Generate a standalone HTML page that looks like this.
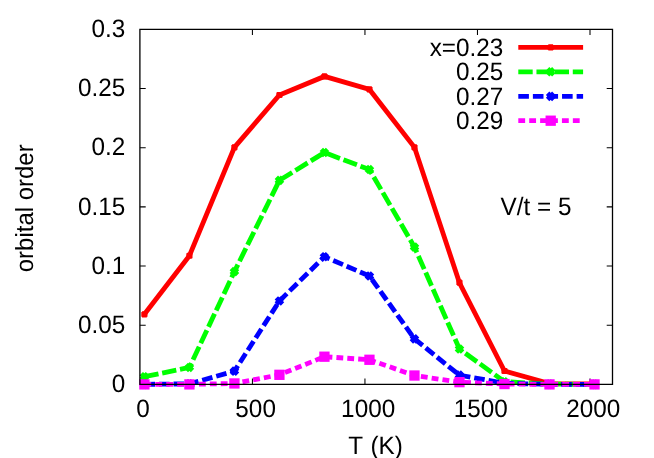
<!DOCTYPE html>
<html><head><meta charset="utf-8"><title>orbital order</title>
<style>html,body{margin:0;padding:0;background:#fff}svg{display:block;will-change:transform}text{font-family:"Liberation Sans",sans-serif;font-size:24.3px;fill:#000;text-rendering:geometricPrecision}</style></head><body>
<svg width="654" height="458" viewBox="0 0 654 458">
<rect width="654" height="458" fill="#fff"/>
<path d="M252.42 384.40v-5.80M252.42 29.30v5.80M364.95 384.40v-5.80M364.95 29.30v5.80M477.47 384.40v-5.80M477.47 29.30v5.80M590.00 384.40v-5.80M590.00 29.30v5.80M139.90 325.22h5.80M612.50 325.22h-5.80M139.90 266.03h5.80M612.50 266.03h-5.80M139.90 206.85h5.80M612.50 206.85h-5.80M139.90 147.67h5.80M612.50 147.67h-5.80M139.90 88.48h5.80M612.50 88.48h-5.80" stroke="#000" stroke-width="1.05" fill="none"/>
<path d="M518.30 47.30H583.10" stroke="#ff0000" stroke-width="4.8" fill="none"/>
<path d="M547.60 47.30H553.80M550.70 44.20V50.40" stroke="#ff0000" stroke-width="4.8" fill="none"/>
<polyline points="144.40,314.33 189.41,255.74 234.42,147.31 279.43,94.99 324.44,76.41 369.45,89.43 414.46,147.31 459.47,282.72 504.48,371.02 549.49,383.57 594.50,383.81" stroke="#ff0000" stroke-width="4.8" fill="none" stroke-linejoin="miter"/>
<path d="M141.30 314.33H147.50M144.40 311.23V317.43" stroke="#ff0000" stroke-width="4.8" fill="none"/>
<path d="M186.31 255.74H192.51M189.41 252.64V258.84" stroke="#ff0000" stroke-width="4.8" fill="none"/>
<path d="M231.32 147.31H237.52M234.42 144.21V150.41" stroke="#ff0000" stroke-width="4.8" fill="none"/>
<path d="M276.33 94.99H282.53M279.43 91.89V98.09" stroke="#ff0000" stroke-width="4.8" fill="none"/>
<path d="M321.34 76.41H327.54M324.44 73.31V79.51" stroke="#ff0000" stroke-width="4.8" fill="none"/>
<path d="M366.35 89.43H372.55M369.45 86.33V92.53" stroke="#ff0000" stroke-width="4.8" fill="none"/>
<path d="M411.36 147.31H417.56M414.46 144.21V150.41" stroke="#ff0000" stroke-width="4.8" fill="none"/>
<path d="M456.37 282.72H462.57M459.47 279.62V285.82" stroke="#ff0000" stroke-width="4.8" fill="none"/>
<path d="M501.38 371.02H507.58M504.48 367.92V374.12" stroke="#ff0000" stroke-width="4.8" fill="none"/>
<path d="M546.39 383.57H552.59M549.49 380.47V386.67" stroke="#ff0000" stroke-width="4.8" fill="none"/>
<path d="M591.40 383.81H597.60M594.50 380.71V386.91" stroke="#ff0000" stroke-width="4.8" fill="none"/>
<path d="M518.30 71.80H583.10" stroke="#00ff00" stroke-width="4.8" fill="none" stroke-dasharray="14.39 3.77"/>
<path d="M547.60 68.70L553.80 74.90M547.60 74.90L553.80 68.70" stroke="#00ff00" stroke-width="4.8" fill="none"/>
<polyline points="144.40,376.71 189.41,367.47 234.42,271.60 279.43,180.34 324.44,152.52 369.45,169.56 414.46,247.09 459.47,349.01 504.48,381.68 549.49,384.16 594.50,384.40" stroke="#00ff00" stroke-width="4.8" fill="none" stroke-linejoin="miter" stroke-dasharray="14.39 3.77"/>
<path d="M141.30 373.61L147.50 379.81M141.30 379.81L147.50 373.61" stroke="#00ff00" stroke-width="4.8" fill="none"/>
<path d="M186.31 364.37L192.51 370.57M186.31 370.57L192.51 364.37" stroke="#00ff00" stroke-width="4.8" fill="none"/>
<path d="M231.32 268.50L237.52 274.70M231.32 274.70L237.52 268.50" stroke="#00ff00" stroke-width="4.8" fill="none"/>
<path d="M276.33 177.24L282.53 183.44M276.33 183.44L282.53 177.24" stroke="#00ff00" stroke-width="4.8" fill="none"/>
<path d="M321.34 149.42L327.54 155.62M321.34 155.62L327.54 149.42" stroke="#00ff00" stroke-width="4.8" fill="none"/>
<path d="M366.35 166.46L372.55 172.66M366.35 172.66L372.55 166.46" stroke="#00ff00" stroke-width="4.8" fill="none"/>
<path d="M411.36 243.99L417.56 250.19M411.36 250.19L417.56 243.99" stroke="#00ff00" stroke-width="4.8" fill="none"/>
<path d="M456.37 345.91L462.57 352.11M456.37 352.11L462.57 345.91" stroke="#00ff00" stroke-width="4.8" fill="none"/>
<path d="M501.38 378.58L507.58 384.78M501.38 384.78L507.58 378.58" stroke="#00ff00" stroke-width="4.8" fill="none"/>
<path d="M546.39 381.06L552.59 387.26M546.39 387.26L552.59 381.06" stroke="#00ff00" stroke-width="4.8" fill="none"/>
<path d="M591.40 381.30L597.60 387.50M591.40 387.50L597.60 381.30" stroke="#00ff00" stroke-width="4.8" fill="none"/>
<path d="M518.30 96.40H583.10" stroke="#0000ff" stroke-width="4.8" fill="none" stroke-dasharray="10.61 3.97"/>
<path d="M547.60 96.40H553.80M550.70 93.30V99.50" stroke="#0000ff" stroke-width="4.8" fill="none"/><path d="M547.60 93.30L553.80 99.50M547.60 99.50L553.80 93.30" stroke="#0000ff" stroke-width="4.8" fill="none"/>
<polyline points="144.40,384.40 189.41,383.81 234.42,371.14 279.43,300.95 324.44,256.68 369.45,275.98 414.46,338.83 459.47,375.17 504.48,383.22 549.49,384.40 594.50,384.40" stroke="#0000ff" stroke-width="4.8" fill="none" stroke-linejoin="miter" stroke-dasharray="10.61 3.97"/>
<path d="M141.30 384.40H147.50M144.40 381.30V387.50" stroke="#0000ff" stroke-width="4.8" fill="none"/><path d="M141.30 381.30L147.50 387.50M141.30 387.50L147.50 381.30" stroke="#0000ff" stroke-width="4.8" fill="none"/>
<path d="M186.31 383.81H192.51M189.41 380.71V386.91" stroke="#0000ff" stroke-width="4.8" fill="none"/><path d="M186.31 380.71L192.51 386.91M186.31 386.91L192.51 380.71" stroke="#0000ff" stroke-width="4.8" fill="none"/>
<path d="M231.32 371.14H237.52M234.42 368.04V374.24" stroke="#0000ff" stroke-width="4.8" fill="none"/><path d="M231.32 368.04L237.52 374.24M231.32 374.24L237.52 368.04" stroke="#0000ff" stroke-width="4.8" fill="none"/>
<path d="M276.33 300.95H282.53M279.43 297.85V304.05" stroke="#0000ff" stroke-width="4.8" fill="none"/><path d="M276.33 297.85L282.53 304.05M276.33 304.05L282.53 297.85" stroke="#0000ff" stroke-width="4.8" fill="none"/>
<path d="M321.34 256.68H327.54M324.44 253.58V259.78" stroke="#0000ff" stroke-width="4.8" fill="none"/><path d="M321.34 253.58L327.54 259.78M321.34 259.78L327.54 253.58" stroke="#0000ff" stroke-width="4.8" fill="none"/>
<path d="M366.35 275.98H372.55M369.45 272.88V279.08" stroke="#0000ff" stroke-width="4.8" fill="none"/><path d="M366.35 272.88L372.55 279.08M366.35 279.08L372.55 272.88" stroke="#0000ff" stroke-width="4.8" fill="none"/>
<path d="M411.36 338.83H417.56M414.46 335.73V341.93" stroke="#0000ff" stroke-width="4.8" fill="none"/><path d="M411.36 335.73L417.56 341.93M411.36 341.93L417.56 335.73" stroke="#0000ff" stroke-width="4.8" fill="none"/>
<path d="M456.37 375.17H462.57M459.47 372.07V378.27" stroke="#0000ff" stroke-width="4.8" fill="none"/><path d="M456.37 372.07L462.57 378.27M456.37 378.27L462.57 372.07" stroke="#0000ff" stroke-width="4.8" fill="none"/>
<path d="M501.38 383.22H507.58M504.48 380.12V386.32" stroke="#0000ff" stroke-width="4.8" fill="none"/><path d="M501.38 380.12L507.58 386.32M501.38 386.32L507.58 380.12" stroke="#0000ff" stroke-width="4.8" fill="none"/>
<path d="M546.39 384.40H552.59M549.49 381.30V387.50" stroke="#0000ff" stroke-width="4.8" fill="none"/><path d="M546.39 381.30L552.59 387.50M546.39 387.50L552.59 381.30" stroke="#0000ff" stroke-width="4.8" fill="none"/>
<path d="M591.40 384.40H597.60M594.50 381.30V387.50" stroke="#0000ff" stroke-width="4.8" fill="none"/><path d="M591.40 381.30L597.60 387.50M591.40 387.50L597.60 381.30" stroke="#0000ff" stroke-width="4.8" fill="none"/>
<path d="M518.30 120.70H583.10" stroke="#ff00ff" stroke-width="4.8" fill="none" stroke-dasharray="6.84 4.07"/>
<rect x="545.55" y="115.55" width="10.30" height="10.30" fill="#ff00ff"/>
<polyline points="144.40,384.40 189.41,384.40 234.42,383.45 279.43,374.81 324.44,356.70 369.45,359.78 414.46,375.52 459.47,382.15 504.48,384.04 549.49,384.40 594.50,384.40" stroke="#ff00ff" stroke-width="4.8" fill="none" stroke-linejoin="miter" stroke-dasharray="6.84 4.07"/>
<rect x="139.25" y="379.25" width="10.30" height="10.30" fill="#ff00ff"/>
<rect x="184.26" y="379.25" width="10.30" height="10.30" fill="#ff00ff"/>
<rect x="229.27" y="378.30" width="10.30" height="10.30" fill="#ff00ff"/>
<rect x="274.28" y="369.66" width="10.30" height="10.30" fill="#ff00ff"/>
<rect x="319.29" y="351.55" width="10.30" height="10.30" fill="#ff00ff"/>
<rect x="364.30" y="354.63" width="10.30" height="10.30" fill="#ff00ff"/>
<rect x="409.31" y="370.37" width="10.30" height="10.30" fill="#ff00ff"/>
<rect x="454.32" y="377.00" width="10.30" height="10.30" fill="#ff00ff"/>
<rect x="499.33" y="378.89" width="10.30" height="10.30" fill="#ff00ff"/>
<rect x="544.34" y="379.25" width="10.30" height="10.30" fill="#ff00ff"/>
<rect x="589.35" y="379.25" width="10.30" height="10.30" fill="#ff00ff"/>
<path d="M139.90 29.30H612.50V384.40H139.90Z" stroke="#000" stroke-width="1.3" fill="none"/>
<text transform="translate(125.20 392.20) scale(1 1.038)" text-anchor="end">0</text>
<text transform="translate(125.20 333.02) scale(1 1.038)" text-anchor="end">0.05</text>
<text transform="translate(125.20 273.83) scale(1 1.038)" text-anchor="end">0.1</text>
<text transform="translate(125.20 214.65) scale(1 1.038)" text-anchor="end">0.15</text>
<text transform="translate(125.20 155.47) scale(1 1.038)" text-anchor="end">0.2</text>
<text transform="translate(125.20 96.28) scale(1 1.038)" text-anchor="end">0.25</text>
<text transform="translate(125.20 37.10) scale(1 1.038)" text-anchor="end">0.3</text>
<text transform="translate(143.10 417.10) scale(1 1.038)" text-anchor="middle">0</text>
<text transform="translate(255.62 417.10) scale(1 1.038)" text-anchor="middle">500</text>
<text transform="translate(368.15 417.10) scale(1 1.038)" text-anchor="middle">1000</text>
<text transform="translate(480.67 417.10) scale(1 1.038)" text-anchor="middle">1500</text>
<text transform="translate(593.20 417.10) scale(1 1.038)" text-anchor="middle">2000</text>
<text word-spacing="1.1" transform="translate(375.50 453.50) scale(1 1.038)" text-anchor="middle">T (K)</text>
<text transform="translate(32.7 208.3) rotate(-90) scale(0.986 1.02)" text-anchor="middle">orbital order</text>
<text transform="translate(500.50 215.10) scale(1 1.038)" text-anchor="start">V/t = 5</text>
<text transform="translate(503.30 55.80) scale(1 1.038)" text-anchor="end">x=0.23</text>
<text transform="translate(503.30 80.30) scale(1 1.038)" text-anchor="end">0.25</text>
<text transform="translate(503.30 104.90) scale(1 1.038)" text-anchor="end">0.27</text>
<text transform="translate(503.30 129.20) scale(1 1.038)" text-anchor="end">0.29</text>
</svg></body></html>
